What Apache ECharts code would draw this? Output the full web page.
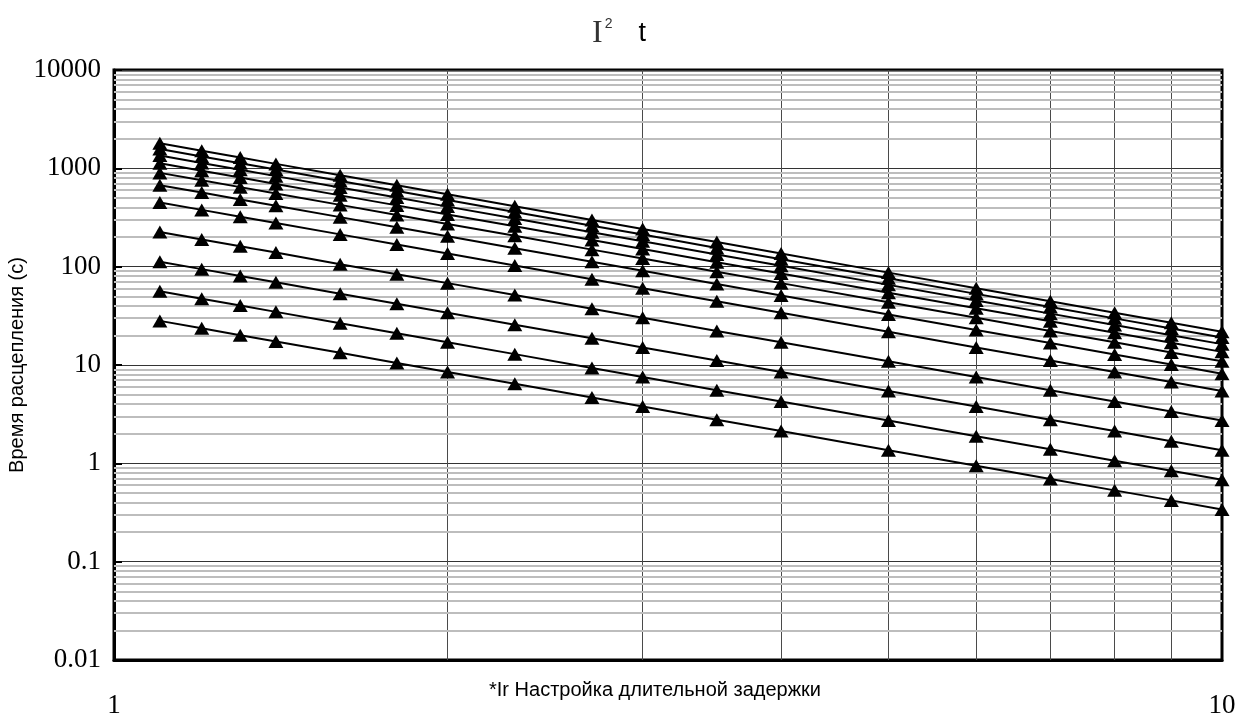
<!DOCTYPE html>
<html>
<head>
<meta charset="utf-8">
<script src="https://cdn.jsdelivr.net/npm/echarts@6/dist/echarts.min.js"></script>
<style>
  html, body { margin: 0; padding: 0; background: #fff; }
  #main { width: 1246px; height: 715px; }
</style>
</head>
<body>
<div id="main"></div>
<script>
// кратность тока (*Ir)
var currents = [1.1, 1.2, 1.3, 1.4, 1.6, 1.8, 2, 2.3, 2.7, 3, 3.5, 4, 5, 6, 7, 8, 9, 10];

// время расцепления (с), по кривым снизу вверх
var curve1  = [28.1, 23.6, 20.1, 17.3, 13.3, 10.5, 8.5, 6.43, 4.66, 3.78, 2.78, 2.13, 1.36, 0.944, 0.694, 0.531, 0.42, 0.34];
var curve2  = [56.2, 47.2, 40.2, 34.7, 26.6, 21.0, 17.0, 12.9, 9.33, 7.56, 5.55, 4.25, 2.72, 1.89, 1.39, 1.06, 0.84, 0.68];
var curve3  = [112, 94.4, 80.5, 69.4, 53.1, 42.0, 34.0, 25.7, 18.7, 15.1, 11.1, 8.5, 5.44, 3.78, 2.78, 2.13, 1.68, 1.36];
var curve4  = [225, 189, 161, 139, 106, 83.9, 68.0, 51.4, 37.3, 30.2, 22.2, 17.0, 10.9, 7.56, 5.55, 4.25, 3.36, 2.72];
var curve5  = [450, 378, 322, 278, 213, 168, 136, 103, 74.6, 60.4, 44.4, 34.0, 21.8, 15.1, 11.1, 8.5, 6.72, 5.44];
var curve6  = [674, 567, 483, 416, 319, 252, 204, 154, 112, 90.7, 66.6, 51.0, 32.6, 22.7, 16.7, 12.8, 10.1, 8.16];
var curve7  = [899, 756, 644, 555, 425, 336, 272, 206, 149, 121, 88.8, 68.0, 43.5, 30.2, 22.2, 17.0, 13.4, 10.9];
var curve8  = [1124, 944, 805, 694, 531, 420, 340, 257, 187, 151, 111, 85.0, 54.4, 37.8, 27.8, 21.3, 16.8, 13.6];
var curve9  = [1349, 1133, 966, 833, 638, 504, 408, 309, 224, 181, 133, 102, 65.3, 45.3, 33.3, 25.5, 20.1, 16.3];
var curve10 = [1574, 1322, 1127, 971, 744, 588, 476, 360, 261, 212, 155, 119, 76.2, 52.9, 38.9, 29.8, 23.5, 19.0];
var curve11 = [1798, 1511, 1288, 1110, 850, 672, 544, 411, 298, 242, 178, 136, 87.0, 60.4, 44.4, 34.0, 26.9, 21.8];

var curves = [curve1, curve2, curve3, curve4, curve5, curve6, curve7, curve8, curve9, curve10, curve11];

// подписи осей
var yTicks = [0.01, 0.1, 1, 10, 100, 1000, 10000];
var yTickLabels = ['0.01', '0.1', '1', '10', '100', '1000', '10000'];
var xTicks = [1, 10];
var xTickLabels = ['1', '10'];

(function () {
  var myChart = echarts.init(document.getElementById('main'));

  // линии сетки внутри декад
  var gridLines = [];
  [2, 3, 4, 5, 6, 7, 8, 9].forEach(function (k) {
    gridLines.push({ xAxis: k, lineStyle: { color: '#4a4a4a', width: 1, type: 'solid' } });
  });
  [0.01, 0.1, 1, 10, 100, 1000].forEach(function (d) {
    for (var k = 2; k <= 9; k++) {
      gridLines.push({ yAxis: +(d * k).toPrecision(2) });
    }
  });

  function pickLabel(v, ticks, labels) {
    for (var i = 0; i < ticks.length; i++) {
      if (Math.abs(Math.log10(v) - Math.log10(ticks[i])) < 1e-6) return labels[i];
    }
    return '';
  }

  var series = [{
    type: 'line',
    data: [[1, 0.001]],
    symbol: 'none',
    silent: true,
    z: 1,
    lineStyle: { width: 0 },
    markLine: {
      z: 1,
      silent: true,
      symbol: ['none', 'none'],
      label: { show: false },
      emphasis: { disabled: true },
      lineStyle: { type: 'solid', color: '#bdbdbd', width: 2 },
      data: gridLines
    }
  }];

  curves.forEach(function (c, idx) {
    series.push({
      name: 'curve' + (idx + 1),
      type: 'line',
      z: 3,
      symbol: 'triangle',
      symbolSize: [15, 13],
      showSymbol: true,
      itemStyle: { color: '#000' },
      lineStyle: { color: '#000', width: 2 },
      data: currents.map(function (x, i) { return [x, c[i]]; })
    });
  });

  var option = {
    animation: false,
    backgroundColor: '#fff',
    title: {
      left: 587,
      top: 12,
      text: '{i|I}{s|2}{t|t}',
      textStyle: {
        fontWeight: 'normal',
        rich: {
          i: { fontFamily: 'Liberation Serif', fontSize: 32, fontWeight: 'normal', color: '#333' },
          s: { fontFamily: 'Liberation Sans', fontSize: 14, fontWeight: 'normal', color: '#333', padding: [0, 0, 20, 2] },
          t: { fontFamily: 'Liberation Sans', fontSize: 27, fontWeight: 'normal', color: '#000', padding: [0, 0, 0, 26] }
        }
      }
    },
    grid: {
      left: 114,
      right: 24,
      top: 70,
      bottom: 55,
      show: true,
      borderColor: '#000',
      borderWidth: 3,
      containLabel: false,
      outerBoundsMode: 'none'
    },
    xAxis: {
      type: 'log',
      logBase: 10,
      min: 1,
      max: 10,
      name: '*Ir Настройка длительной задержки',
      nameLocation: 'middle',
      nameGap: 20,
      nameMoveOverlap: false,
      nameTextStyle: { fontFamily: 'Liberation Sans', fontSize: 20, color: '#000', padding: [0, 26, 0, 0] },
      axisLine: { show: true, lineStyle: { color: '#000', width: 3 } },
      axisTick: { show: false },
      splitLine: { show: false },
      axisLabel: {
        margin: 32,
        fontFamily: 'Liberation Serif',
        fontSize: 27,
        color: '#000',
        formatter: function (v) { return pickLabel(v, xTicks, xTickLabels); }
      }
    },
    yAxis: {
      type: 'log',
      logBase: 10,
      min: 0.01,
      max: 10000,
      splitNumber: 6,
      name: 'Время расцепления (с)',
      nameLocation: 'middle',
      nameRotate: 90,
      nameGap: 87,
      nameMoveOverlap: false,
      nameTextStyle: { fontFamily: 'Liberation Sans', fontSize: 20, color: '#000' },
      axisLine: { show: true, lineStyle: { color: '#000', width: 3 } },
      axisTick: { show: true, inside: true, length: 8, lineStyle: { color: '#000', width: 2 } },
      splitLine: { show: true, lineStyle: { color: '#333', width: 1 } },
      axisLabel: {
        margin: 13,
        fontFamily: 'Liberation Serif',
        fontSize: 27,
        color: '#000',
        formatter: function (v) { return pickLabel(v, yTicks, yTickLabels); }
      }
    },
    series: series
  };

  myChart.setOption(option);
  window.addEventListener('resize', myChart.resize);
})();
</script>
</body>
</html>
